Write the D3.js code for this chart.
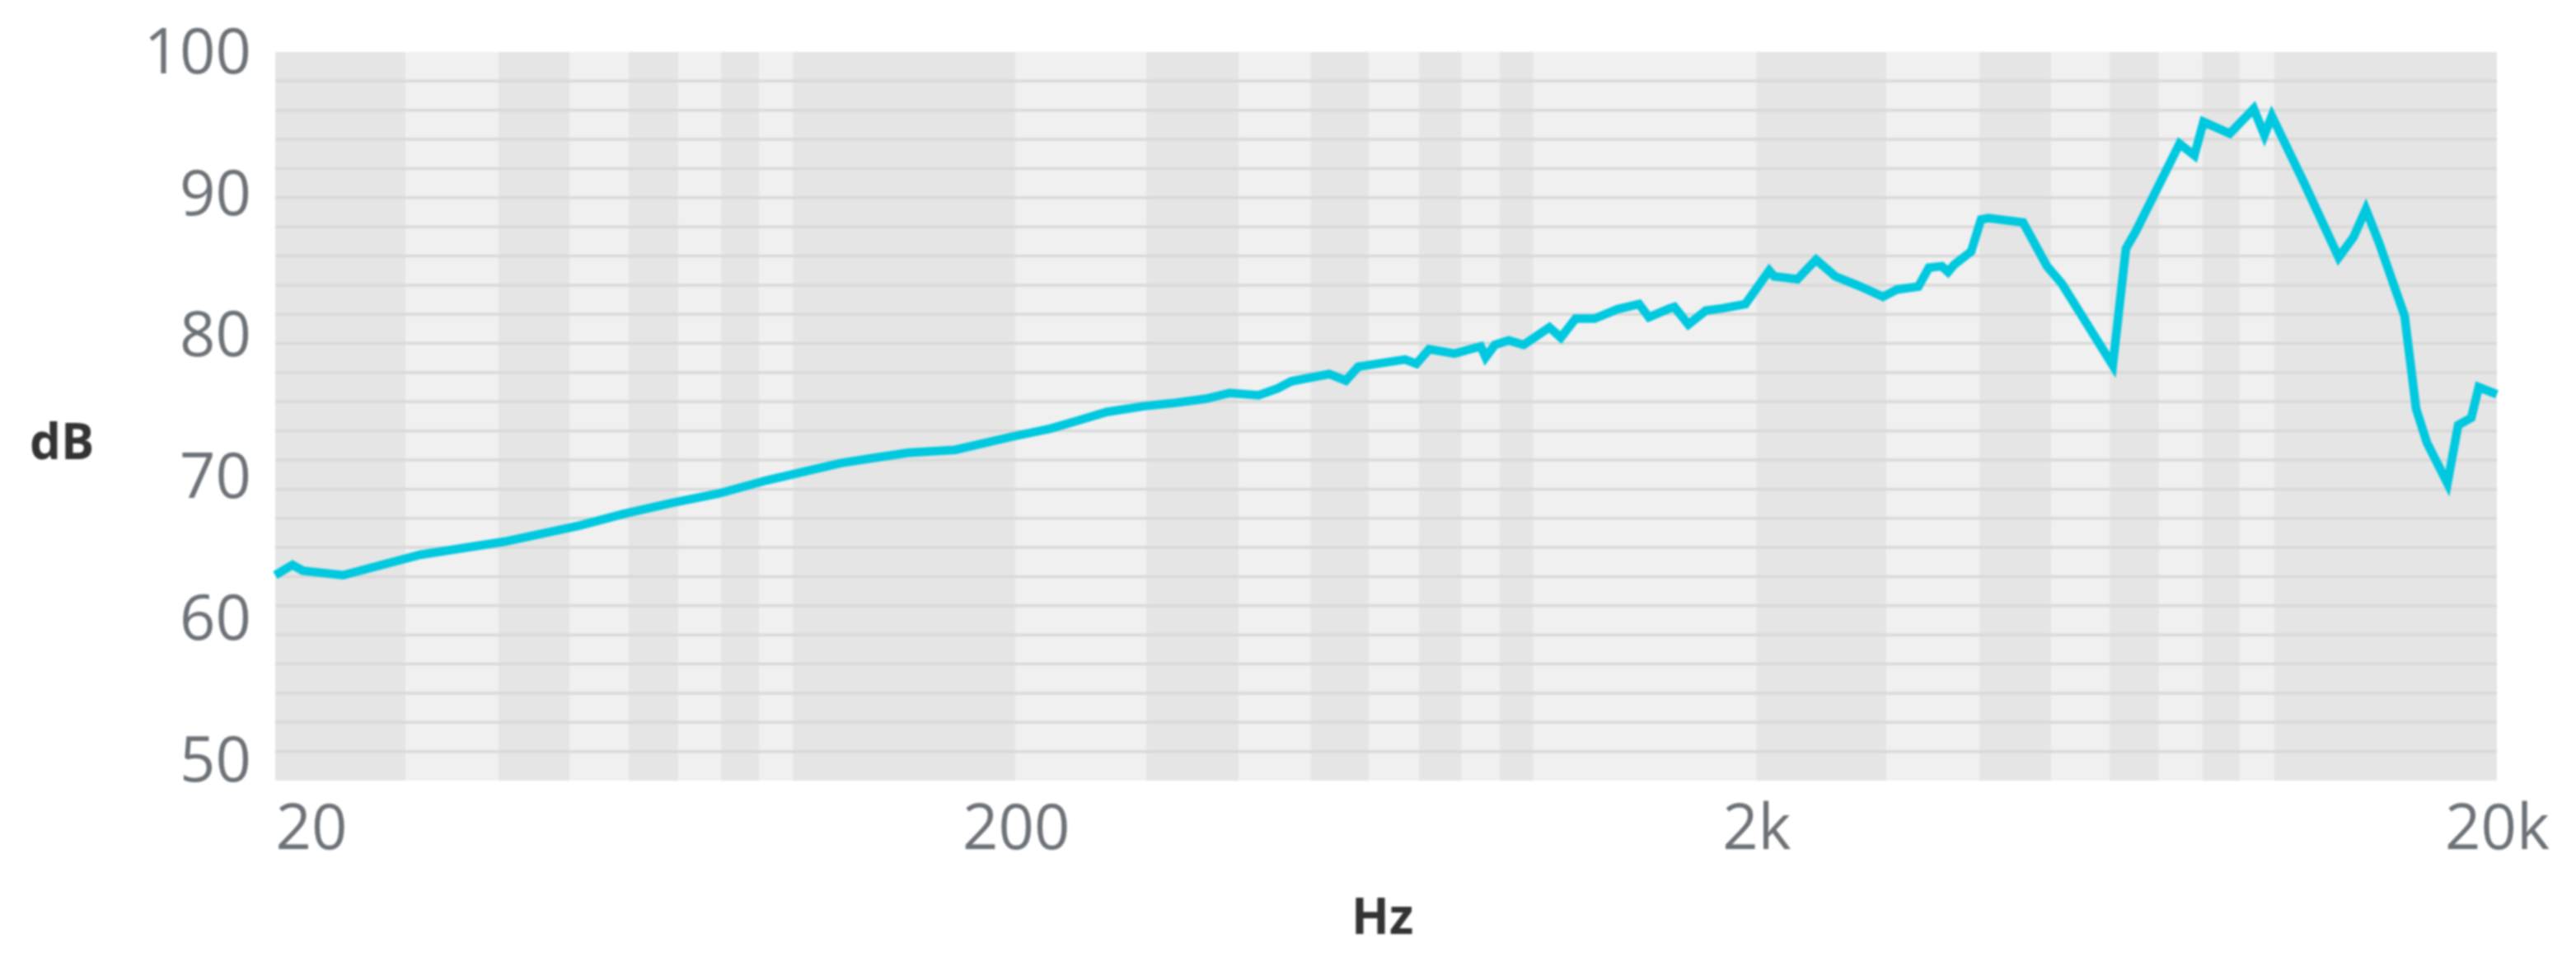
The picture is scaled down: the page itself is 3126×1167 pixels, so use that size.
<!DOCTYPE html>
<html>
<head>
<meta charset="utf-8">
<script src="https://cdn.jsdelivr.net/npm/d3@7"></script>
<style>
  body { margin: 0; background: #fff; }
  svg { display: block; filter: blur(1px); }
</style>
</head>
<body>
<svg id="chart"></svg>
<script>
// frequency response
var freqHz = [20, 21.1, 21.8, 24.7, 31.4, 40.8, 51.5, 59.1, 68.6, 79.4, 92.1, 103.6, 116.3, 130.8, 143.1,
  165.6, 175.7, 197.6, 222.4, 242.6, 265.4, 298.6, 325.7, 361, 388.9, 425.4, 451, 471, 530, 558,
  580, 632, 671, 695, 723, 782, 849, 862, 887, 926, 970, 1051, 1089, 1140, 1209, 1299, 1389,
  1432, 1527, 1550, 1619, 1709, 1798, 1933, 2082, 2114, 2272, 2408, 2556, 2752, 2965, 3098,
  3310, 3420, 3560, 3630, 3700, 3900, 4022, 4116, 4584, 4938, 5171, 6058, 6311, 6510, 7456,
  7808, 8032, 8716, 9390, 9708, 9934, 11010, 12228, 12806, 13308, 13866, 15010, 15560, 16086,
  17150, 17732, 18472, 18902, 20000];
var levelDb = [64.1, 64.8, 64.4, 64.1, 65.5, 66.4, 67.5, 68.3, 69.05, 69.7, 70.6, 71.2, 71.8, 72.2, 72.5,
  72.7, 73.0, 73.6, 74.15, 74.7, 75.3, 75.7, 75.9, 76.2, 76.6, 76.45, 76.9, 77.4, 77.9, 77.45,
  78.4, 78.7, 78.9, 78.6, 79.6, 79.3, 79.8, 79.05, 79.9, 80.2, 79.9, 81.1, 80.4, 81.7, 81.7, 82.35, 82.7,
  81.8, 82.4, 82.5, 81.3, 82.25, 82.4, 82.7, 85.0, 84.6, 84.4, 85.75, 84.6, 83.95, 83.2, 83.7,
  83.9, 85.2, 85.3, 84.9, 85.4, 86.3, 88.5, 88.6, 88.3, 85.3, 84.1, 78.5, 86.5, 87.7, 93.7,
  92.9, 95.2, 94.4, 96.1, 94.3, 95.6, 90.9, 85.9, 87.3, 89.2, 86.9, 81.9, 75.5, 73.2,
  70.4, 74.4, 74.9, 77.0, 76.5];

var xTickValues = [20, 200, 2000, 20000];
var xTickLabels = ["20", "200", "2k", "20k"];
var yTickValues = [50, 60, 70, 80, 90, 100];
var bandEdges = [20, 30, 40, 50, 60, 70, 80, 90, 100, 200, 300, 400, 500, 600, 700, 800, 900,
  1000, 2000, 3000, 4000, 5000, 6000, 7000, 8000, 9000, 10000, 20000];
var gridDb = [52, 54, 56, 58, 60, 62, 64, 66, 68, 70, 72, 74, 76, 78, 80, 82, 84, 86, 88, 90, 92, 94, 96, 98];

var width = 3126, height = 1167;
var margin = {top: 63, right: 96, bottom: 220, left: 334};
var plotW = width - margin.left - margin.right,
    plotH = height - margin.top - margin.bottom;

var svg = d3.select("#chart")
  .attr("width", width)
  .attr("height", height);

var g = svg.append("g")
  .attr("transform", "translate(" + margin.left + "," + margin.top + ")");

var x = d3.scaleLog().domain([20, 20000]).range([0, plotW]);
var y = d3.scaleLinear().domain([50, 100]).range([plotH, 0]);
// the tick labels sit a bit inside the plot box in the original
var yLabel = d3.scaleLinear().domain([50, 100]).range([plotH - 27, -2]);

// alternating vertical bands between the log ticks
var bands = d3.pairs(bandEdges);
g.append("g")
  .selectAll("rect")
  .data(bands)
  .enter().append("rect")
    .attr("x", function(d) { return x(d[0]); })
    .attr("y", 0)
    .attr("width", function(d) { return x(d[1]) - x(d[0]); })
    .attr("height", plotH)
    .attr("fill", function(d, i) { return i % 2 === 0 ? "#e5e5e5" : "#f0f0f0"; });

// horizontal grid every 2 dB
g.append("g")
  .selectAll("line")
  .data(gridDb)
  .enter().append("line")
    .attr("x1", 0)
    .attr("x2", plotW)
    .attr("y1", function(d) { return y(d); })
    .attr("y2", function(d) { return y(d); })
    .attr("stroke", "#d9d9d9")
    .attr("stroke-width", 3.5);

// response curve
var line = d3.line()
  .x(function(d) { return x(d[0]); })
  .y(function(d) { return y(d[1]); });

g.append("path")
  .datum(d3.zip(freqHz, levelDb))
  .attr("fill", "none")
  .attr("stroke", "#00c8df")
  .attr("stroke-width", 10.5)
  .attr("stroke-linejoin", "miter")
  .attr("stroke-miterlimit", 6)
  .attr("d", line);

// axes
var tickFont = "'Open Sans', 'DejaVu Sans', sans-serif";

var yAxis = g.append("g")
  .call(d3.axisLeft(yLabel).tickValues(yTickValues).tickSize(0).tickPadding(29));
yAxis.select(".domain").remove();
yAxis.selectAll("text")
  .attr("dy", "0.36em")
  .style("font-family", tickFont)
  .style("font-weight", 400)
  .style("font-size", "76px")
  .attr("fill", "#6d7278");

var xAxis = g.append("g")
  .attr("transform", "translate(0," + (plotH + 83) + ")")
  .call(d3.axisBottom(x).tickValues(xTickValues)
    .tickFormat(function(d, i) { return xTickLabels[i]; })
    .tickSize(0));
xAxis.select(".domain").remove();
xAxis.selectAll("text")
  .attr("y", 0)
  .attr("dy", null)
  .style("font-family", tickFont)
  .style("font-weight", 400)
  .style("font-size", "76px")
  .attr("fill", "#6d7278")
  .attr("text-anchor", function(d, i) { return i === 0 ? "start" : "middle"; });

// axis titles
svg.append("text")
  .attr("x", 36)
  .attr("y", 557)
  .style("font-family", tickFont)
  .style("font-weight", 700)
  .style("font-size", "60px")
  .attr("fill", "#333")
  .text("dB");

svg.append("text")
  .attr("x", 1640)
  .attr("y", 1133)
  .style("font-family", tickFont)
  .style("font-weight", 700)
  .style("font-size", "60px")
  .attr("fill", "#333")
  .text("Hz");
</script>
</body>
</html>
